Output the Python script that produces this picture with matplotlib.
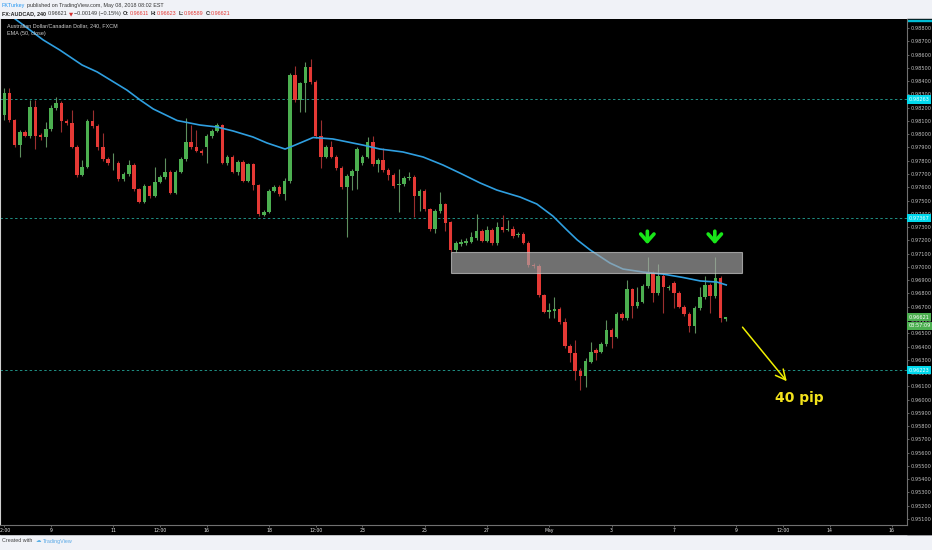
import matplotlib
matplotlib.use('Agg')
import matplotlib.pyplot as plt
from matplotlib.patches import Rectangle
import numpy as np

# 4H candles of FX:AUDCAD, index 0 = Apr 9 00:00, first candle = index -9
first_idx = -9
opens = [0.98144, 0.98312, 0.98107, 0.97918, 0.98019, 0.97986, 0.98207, 0.97994, 0.97976,
         0.98037, 0.98195, 0.98237, 0.98101, 0.98086, 0.97905, 0.97692, 0.97755, 0.98101, 0.98061,
         0.97901, 0.97811, 0.97780, 0.97785, 0.97660, 0.97700, 0.97768, 0.97584, 0.97491, 0.97609,
         0.97534, 0.97642, 0.97675, 0.97717, 0.97559, 0.97717, 0.97811, 0.97943, 0.97901, 0.97875,
         0.97905, 0.97986, 0.98026, 0.98069, 0.97785, 0.97826, 0.97717, 0.97788, 0.97649, 0.97773,
         0.97617, 0.97391, 0.97416, 0.97574, 0.97604, 0.97549, 0.97647, 0.98446, 0.98257, 0.98383,
         0.98508, 0.98395, 0.97986, 0.97830, 0.97905, 0.97830, 0.97743, 0.97604, 0.97685, 0.97725,
         0.97780, 0.97830, 0.97943, 0.97775, 0.97805, 0.97730, 0.97692, 0.97617, 0.97624, 0.97667,
         0.97679, 0.97536, 0.97572, 0.97434, 0.97285, 0.97421, 0.97471, 0.97336, 0.97127, 0.97172,
         0.97178, 0.97190, 0.97215, 0.97270, 0.97197, 0.97278, 0.97178, 0.97303, 0.97278, 0.97283,
         0.97240, 0.97248, 0.97182, 0.97014, 0.97006, 0.96788, 0.96662, 0.96667, 0.96680, 0.96587,
         0.96404, 0.96353, 0.96217, 0.96178, 0.96285, 0.96374, 0.96361, 0.96419, 0.96524, 0.96474,
         0.96645, 0.96612, 0.96831, 0.96705, 0.96737, 0.96856, 0.96956, 0.96801, 0.96931, 0.96838,
         0.96876, 0.96805, 0.96700, 0.96645, 0.96554, 0.96688, 0.96771, 0.96864, 0.96780, 0.96914,
         0.96611]
highs = [0.98348, 0.98348, 0.98114, 0.98031, 0.98031, 0.98257, 0.98257, 0.98009, 0.98092,
         0.98220, 0.98278, 0.98250, 0.98114, 0.98182, 0.97918, 0.97805, 0.98112, 0.98182, 0.98077,
         0.98009, 0.97828, 0.97860, 0.97798, 0.97715, 0.97805, 0.97783, 0.97594, 0.97624, 0.97617,
         0.97755, 0.97692, 0.97818, 0.97730, 0.97730, 0.97828, 0.98120, 0.98069, 0.98031, 0.97888,
         0.98001, 0.98039, 0.98084, 0.98077, 0.97843, 0.97843, 0.97805, 0.97805, 0.97783, 0.97783,
         0.97624, 0.97429, 0.97587, 0.97617, 0.97617, 0.97670, 0.98461, 0.98514, 0.98393, 0.98546,
         0.98564, 0.98408, 0.98107, 0.97918, 0.97951, 0.97843, 0.97760, 0.97700, 0.97737, 0.97903,
         0.97843, 0.97981, 0.97986, 0.97820, 0.97896, 0.97745, 0.97707, 0.97737, 0.97685, 0.97715,
         0.97692, 0.97587, 0.97587, 0.97444, 0.97436, 0.97566, 0.97481, 0.97346, 0.97195, 0.97210,
         0.97217, 0.97263, 0.97398, 0.97285, 0.97308, 0.97293, 0.97338, 0.97391, 0.97353, 0.97308,
         0.97263, 0.97263, 0.97195, 0.97029, 0.97021, 0.96795, 0.96728, 0.96775, 0.96697, 0.96615,
         0.96419, 0.96449, 0.96238, 0.96313, 0.96436, 0.96389, 0.96434, 0.96600, 0.96539, 0.96660,
         0.96660, 0.96901, 0.96841, 0.96850, 0.96871, 0.97072, 0.96969, 0.97022, 0.96946, 0.96864,
         0.96893, 0.96818, 0.96713, 0.96660, 0.96705, 0.96850, 0.96931, 0.96878, 0.97072, 0.96931,
         0.96623]
lows = [0.98107, 0.98092, 0.97903, 0.97828, 0.97979, 0.97971, 0.97888, 0.97956, 0.97903,
        0.98024, 0.98182, 0.98019, 0.98069, 0.97896, 0.97677, 0.97685, 0.97745, 0.98046, 0.97881,
        0.97798, 0.97768, 0.97730, 0.97647, 0.97647, 0.97685, 0.97572, 0.97481, 0.97481, 0.97519,
        0.97526, 0.97632, 0.97662, 0.97549, 0.97549, 0.97707, 0.97798, 0.97888, 0.97866, 0.97843,
        0.97780, 0.97971, 0.98016, 0.97775, 0.97768, 0.97707, 0.97692, 0.97639, 0.97639, 0.97579,
        0.97383, 0.97383, 0.97406, 0.97564, 0.97534, 0.97504, 0.97632, 0.98242, 0.98169, 0.98169,
        0.98378, 0.97971, 0.97743, 0.97820, 0.97820, 0.97730, 0.97587, 0.97227, 0.97579, 0.97587,
        0.97768, 0.97820, 0.97760, 0.97715, 0.97715, 0.97655, 0.97594, 0.97416, 0.97609, 0.97655,
        0.97378, 0.97421, 0.97421, 0.97270, 0.97255, 0.97406, 0.97270, 0.97112, 0.97112, 0.97157,
        0.97165, 0.97180, 0.97203, 0.97187, 0.97187, 0.97165, 0.97165, 0.97263, 0.97270, 0.97217,
        0.97225, 0.97172, 0.96999, 0.96991, 0.96773, 0.96652, 0.96615, 0.96615, 0.96569, 0.96389,
        0.96285, 0.96148, 0.96072, 0.96097, 0.96275, 0.96298, 0.96351, 0.96404, 0.96386, 0.96464,
        0.96600, 0.96600, 0.96612, 0.96690, 0.96728, 0.96841, 0.96737, 0.96788, 0.96650, 0.96826,
        0.96688, 0.96690, 0.96630, 0.96511, 0.96499, 0.96675, 0.96758, 0.96650, 0.96765, 0.96587,
        0.96589]
closes = [0.98312, 0.98107, 0.97918, 0.98019, 0.97986, 0.98207, 0.97986, 0.97976, 0.98037,
          0.98195, 0.98237, 0.98101, 0.98086, 0.97905, 0.97692, 0.97755, 0.98101, 0.98061, 0.97901,
          0.97811, 0.97780, 0.97785, 0.97660, 0.97700, 0.97768, 0.97584, 0.97491, 0.97609, 0.97534,
          0.97642, 0.97675, 0.97717, 0.97559, 0.97717, 0.97811, 0.97943, 0.97901, 0.97875, 0.97856,
          0.97986, 0.98026, 0.98069, 0.97785, 0.97826, 0.97717, 0.97788, 0.97649, 0.97773, 0.97617,
          0.97398, 0.97416, 0.97574, 0.97604, 0.97549, 0.97647, 0.98446, 0.98257, 0.98383, 0.98508,
          0.98395, 0.97986, 0.97830, 0.97905, 0.97830, 0.97743, 0.97604, 0.97685, 0.97725, 0.97886,
          0.97830, 0.97943, 0.97775, 0.97805, 0.97730, 0.97692, 0.97609, 0.97624, 0.97667, 0.97675,
          0.97536, 0.97572, 0.97434, 0.97285, 0.97421, 0.97471, 0.97333, 0.97127, 0.97178, 0.97190,
          0.97197, 0.97227, 0.97270, 0.97197, 0.97278, 0.97178, 0.97303, 0.97278, 0.97283, 0.97233,
          0.97248, 0.97182, 0.97014, 0.97006, 0.96788, 0.96662, 0.96673, 0.96680, 0.96587, 0.96404,
          0.96353, 0.96217, 0.96178, 0.96293, 0.96361, 0.96353, 0.96419, 0.96524, 0.96474, 0.96645,
          0.96612, 0.96831, 0.96705, 0.96737, 0.96856, 0.96956, 0.96801, 0.96931, 0.96846, 0.96846,
          0.96805, 0.96700, 0.96645, 0.96554, 0.96688, 0.96771, 0.96864, 0.96780, 0.96914, 0.96612,
          0.96621]

# EMA(50, close)
ema_idx = [-6.9, -1.5, 1.7, 6.0, 8.9, 14.6, 17.2, 19.7, 24.3, 28.7, 32.0, 35.1, 38.9, 41.6,
           45.1, 46.6, 50.5, 54.3, 60.1, 63.4, 67.8, 71.7, 75.5, 78.8, 82.7, 85.9, 90.4, 93.6,
           96.7, 99.4, 101.4, 103.9, 107.7, 110.2, 114.1, 117.9, 121.8, 125.1, 128.3, 130.1]
ema_val = [0.98868, 0.98710, 0.98634, 0.98521, 0.98469, 0.98333, 0.98257, 0.98190, 0.98103,
           0.98069, 0.98054, 0.98024, 0.97979, 0.97934, 0.97888, 0.97911, 0.97975, 0.97964,
           0.97918, 0.97888, 0.97866, 0.97828, 0.97768, 0.97707, 0.97632, 0.97579, 0.97526,
           0.97474, 0.97383, 0.97278, 0.97203, 0.97127, 0.97029, 0.96984, 0.96961, 0.96946,
           0.96920, 0.96894, 0.96886, 0.96864]

levels = [0.98263, 0.97367, 0.96223]
level_labels = ['0.98263', '0.97367', '0.96223']
zone_left, zone_right = 77.0, 133.1
zone_low, zone_high = 0.96951, 0.97110
arrow_idx = [114.9, 127.9]
last_price = 0.96621
countdown = '03:57:09'

xtick_pos = [-9, 0, 12, 21, 30, 42, 51, 60, 72, 84, 96, 108, 120, 132, 141, 150, 162]
xtick_lab = ['12:00', '9', '11', '12:00', '16', '18', '12:00', '23', '25', '27', 'May',
             '3', '7', '9', '12:00', '14', '16']

W, H = 932, 550
fig = plt.figure(figsize=(W / 100, H / 100), dpi=100, facecolor='#f0f2f7')
ax = fig.add_axes([0, 25 / H, 907 / W, 506 / H])
ax.set_facecolor('black')

# black strips for the axes area outside the plot
fig.patches.append(Rectangle((0, 16 / H), 1, 10 / H, transform=fig.transFigure,
                             color='black', zorder=-1))
fig.patches.append(Rectangle((907 / W, 16 / H), 25 / W, 515 / H, transform=fig.transFigure,
                             color='black', zorder=-1))
fig.patches.append(Rectangle((907 / W, 529 / H), 25 / W, 1.5 / H, transform=fig.transFigure,
                             color='#00bcd4', zorder=-1))

idx = np.arange(first_idx, first_idx + len(opens))
o = np.array(opens); h = np.array(highs); l = np.array(lows); c = np.array(closes)
up = c >= o
body_col = np.where(up, '#4caf50', '#e53935')
wick_col = np.where(up, '#5e8f5e', '#9c2f2f')

ax.vlines(idx, l, h, colors=wick_col, lw=0.8, zorder=2)
ax.bar(idx, np.maximum(np.abs(c - o), 0.00006), bottom=np.minimum(o, c), width=0.68,
       color=body_col, edgecolor='none', zorder=3)

ax.plot(ema_idx, ema_val, color='#2f9fe0', lw=1.2, zorder=4)

for lv in levels:
    ax.axhline(lv, color='#1f8f84', lw=0.7, ls=(0, (2.5, 2.5)), zorder=1)

ax.add_patch(Rectangle((zone_left, zone_low), zone_right - zone_left, zone_high - zone_low,
                       facecolor='#a6a6a6', alpha=0.68, edgecolor='#cfcfcf', lw=0.8, zorder=5))

for ai in arrow_idx:
    ax.annotate('', xy=(ai, 0.97150), xytext=(ai, 0.97290),
                arrowprops=dict(arrowstyle='->, head_length=0.45, head_width=0.4',
                                color='#19e619', lw=2.6, mutation_scale=12), zorder=6)

ax.annotate('', xy=(142.1, 0.96122), xytext=(132.9, 0.96562),
            arrowprops=dict(arrowstyle='->, head_length=0.6, head_width=0.3',
                            color='#f0f000', lw=1.1, mutation_scale=12), zorder=6)
ax.text(144.2, 0.96009, '40 pip', color='#f2e21c', fontsize=10, fontweight='bold',
        ha='center', va='center', family='DejaVu Sans')

ax.set_xlim(-9.83, 164.93)
ax.set_ylim(0.95055, 0.98868)

ax.yaxis.tick_right()
yt = np.round(np.arange(0.951, 0.9885, 0.001), 3)
ax.set_yticks(yt)
ax.set_yticklabels(['%.5f' % v for v in yt])
ax.tick_params(axis='y', direction='out', length=1.5, width=0.5, color='#8a8a8a',
               labelsize=3.6, labelcolor='#c4c4c4', pad=1)
ax.set_xticks(xtick_pos)
ax.set_xticklabels(xtick_lab)
ax.tick_params(axis='x', direction='out', length=1.5, width=0.5, color='#8a8a8a',
               labelsize=3.3, labelcolor='#e8e8e8', pad=0.5)
ax.spines['top'].set_visible(False)
ax.spines['bottom'].set_color('#707070')
ax.spines['right'].set_color('#707070')
ax.spines['left'].set_color('#d0d0d0')
for sp in ax.spines.values():
    sp.set_linewidth(0.8)

ytr = ax.get_yaxis_transform()
for lv, lab in zip(levels, level_labels):
    ax.text(1.0015, lv, lab, transform=ytr, fontsize=3.6, color='#f2ffff', ha='left',
            va='center', clip_on=False, zorder=8,
            bbox=dict(boxstyle='square,pad=0.35', fc='#00d8ec', ec='none'))
ax.text(1.0015, last_price, '%.5f' % last_price, transform=ytr, fontsize=3.6, color='white',
        ha='left', va='center', clip_on=False, zorder=8,
        bbox=dict(boxstyle='square,pad=0.35', fc='#4caf50', ec='none'))
ax.text(1.0015, last_price - 0.00066, countdown, transform=ytr, fontsize=3.6, color='white',
        ha='left', va='center', clip_on=False, zorder=8,
        bbox=dict(boxstyle='square,pad=0.35', fc='#4caf50', ec='none'))

renderer = fig.canvas.get_renderer()


def run_text(x, y, pieces, fs=3.9):
    # lay out pieces one after another on the same line
    for s, col, wt, fam, gap in pieces:
        t = fig.text(x / W, 1 - y / H, s, va='center', ha='left', family=fam,
                     fontsize=fs, color=col, fontweight=wt, zorder=9)
        x += t.get_window_extent(renderer).width + gap


LS = 'Liberation Sans'
DK = '#333333'
RD = '#e53935'
run_text(2, 5.5, [('FKTurkey', '#2196f3', 'normal', LS, 1.6),
                  ('published on TradingView.com, May 08, 2018 08:02 EST', DK, 'normal', LS, 0)])
run_text(2, 13.5, [('FX:AUDCAD, 240', '#222222', 'bold', LS, 1.8),
                   ('0.96621', DK, 'normal', LS, 1.4),
                   ('\u25bc', '#d32f2f', 'normal', 'DejaVu Sans', 1.4),
                   ('\u22120.00149 (\u22120.15%)', DK, 'normal', LS, 2.0),
                   ('O:', '#222222', 'bold', LS, 0.3), ('0.96611', RD, 'normal', LS, 2.0),
                   ('H:', '#222222', 'bold', LS, 0.3), ('0.96623', RD, 'normal', LS, 2.0),
                   ('L:', '#222222', 'bold', LS, 0.3), ('0.96589', RD, 'normal', LS, 2.0),
                   ('C:', '#222222', 'bold', LS, 0.3), ('0.96621', RD, 'normal', LS, 0)])

run_text(6.7, 25.7, [('Australian Dollar/Canadian Dollar, 240, FXCM', '#d0d0d0', 'normal', LS, 0)])
run_text(6.7, 34, [('EMA (50, close)', '#d0d0d0', 'normal', LS, 0)])

run_text(2, 541, [('Created with', '#444444', 'normal', LS, 3),
                  ('\u2601', '#5ab0e6', 'normal', 'DejaVu Sans', 2),
                  ('TradingView', '#5aa9e6', 'normal', LS, 0)])

fig.savefig('out.png', dpi=100, facecolor=fig.get_facecolor())
